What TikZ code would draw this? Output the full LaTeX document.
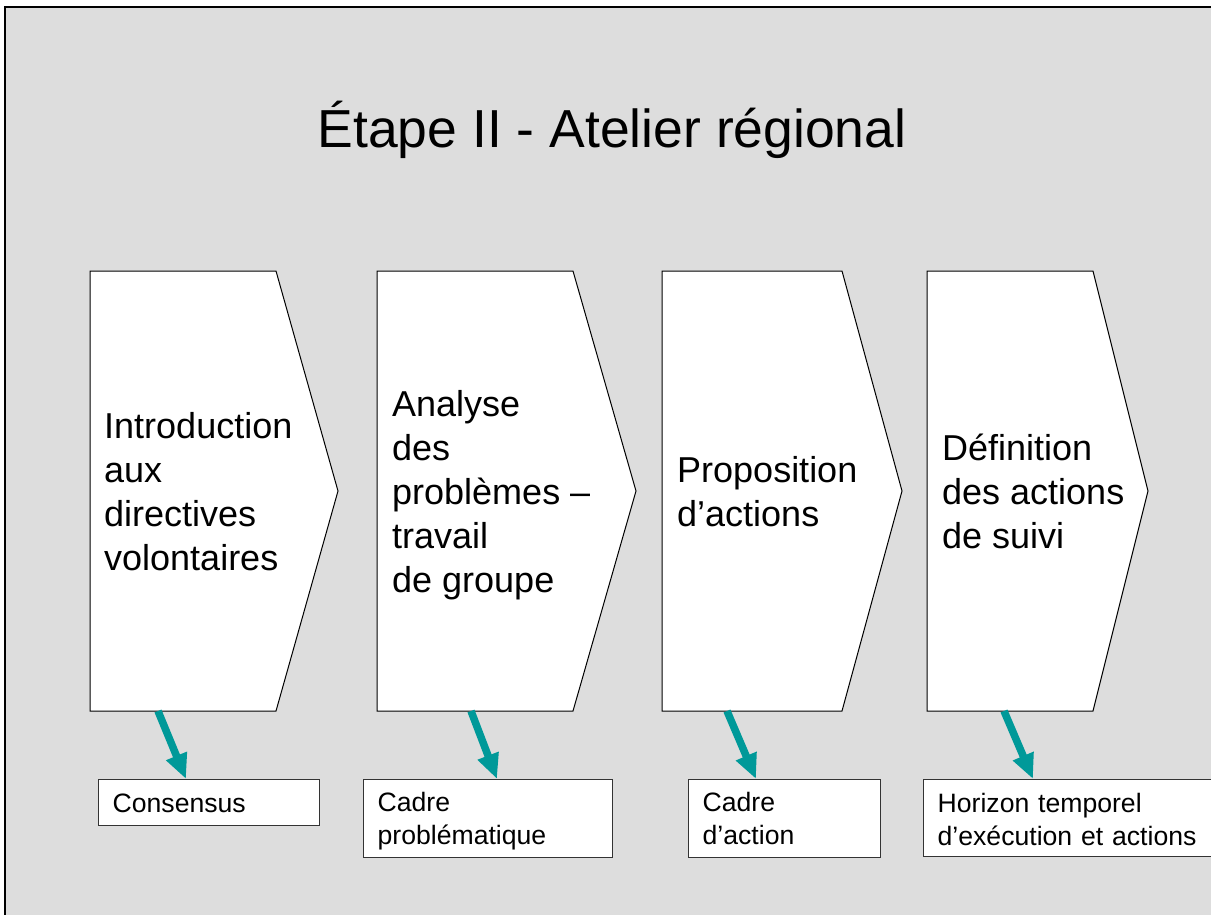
\documentclass[tikz,border=0pt]{standalone}
\usepackage{fontspec}
\setmainfont{Liberation Sans}
\usetikzlibrary{arrows.meta}
\definecolor{slidebg}{HTML}{DDDDDD}
\definecolor{flowteal}{HTML}{009999}
\begin{document}
\begin{tikzpicture}[x=1pt,y=-1pt,
  chev/.style={draw=black, fill=white, line width=1pt, line join=miter},
  smallbox/.style={draw=black!80, fill=white, line width=1.4pt, align=left,
    inner xsep=14pt, inner ysep=0pt, anchor=north west,
    font=\fontsize{26.6}{33}\selectfont},
  bodytext/.style={anchor=base west, align=left, inner sep=0pt,
    font=\fontsize{36}{44}\selectfont},
  flow/.style={draw=flowteal, line width=7.5pt, -{Triangle[length=25pt,width=21pt]}}]
\useasboundingbox (0,0) rectangle (1211,915);
\clip (0,0) rectangle (1211,915);
\fill[white] (0,0) rectangle (1211,915);
% slide frame
\draw[line width=2pt, fill=slidebg] (5,7) rectangle (1240,940);
% title
\node[anchor=base, inner sep=0pt, font=\fontsize{53.5}{64}\selectfont] (title) at (612,148) {Étape II - Atelier régional};
% chevrons
\draw[chev] (90,271) -- (276,271) -- (338,491) -- (276,711) -- (90,711) -- cycle;
\draw[chev] (377,271) -- (573,271) -- (636,491) -- (573,711) -- (377,711) -- cycle;
\draw[chev] (662,271) -- (842,271) -- (902,491) -- (842,711) -- (662,711) -- cycle;
\draw[chev] (927,271) -- (1093,271) -- (1148,491) -- (1093,711) -- (927,711) -- cycle;
% base anchor = baseline of the last line
\node[bodytext] (t1) at (104,570) {Introduction\\aux\\directives\\volontaires};
\node[bodytext] (t2) at (392,592) {Analyse\\des\\problèmes –\\travail\\de groupe};
\node[bodytext] (t3) at (677,526) {Proposition\\d’actions};
\node[bodytext] (t4) at (942,548) {Définition\\des actions\\de suivi};
% result boxes (baseline = first line)
\node[smallbox, text width=193pt, text height=33pt, text depth=13pt] (b1) at (98,779) {Consensus};
\node[smallbox, text width=221pt, text height=32pt, text depth=46pt] (b2) at (363,779) {Cadre\\problématique};
\node[smallbox, text width=164pt, text height=32pt, text depth=46pt] (b3) at (688,779) {Cadre\\d’action};
\node[smallbox, text width=279pt, text height=33pt, text depth=44pt] (b4) at (923,779) {Horizon temporel\\d’exécution et actions};
% arrows
\coordinate (s1) at (158,711);
\coordinate (s2) at (471,711);
\coordinate (s3) at (727,711);
\coordinate (s4) at (1004,711);
\draw[flow] (s1) -- ([xshift=88pt]b1.north west);
\draw[flow] (s2) -- ([xshift=134pt]b2.north west);
\draw[flow] (s3) -- ([xshift=68pt]b3.north west);
\draw[flow] (s4) -- ([xshift=110pt]b4.north west);
\end{tikzpicture}
\end{document}
